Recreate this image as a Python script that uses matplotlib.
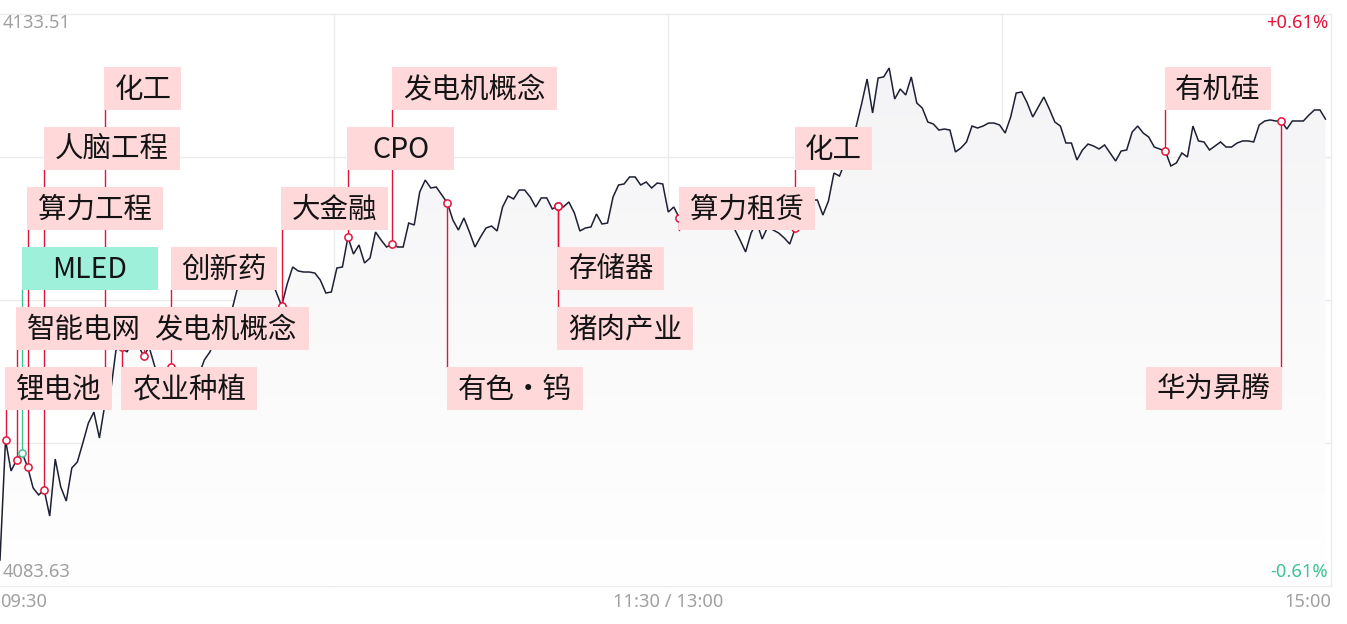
import numpy as np
import matplotlib
matplotlib.use("Agg")
import matplotlib.pyplot as plt
from matplotlib.patches import Rectangle, Polygon
from matplotlib.colors import LinearSegmentedColormap

# ---- index level, one value per minute (09:30-11:30, 13:00-15:00) ----
price = [
    4085.90, 4096.36, 4093.66, 4094.62, 4095.23, 4094.01, 4092.18, 4091.57, 4092.00, 4089.73,
    4094.70, 4092.26, 4091.04, 4093.92, 4094.44, 4096.10, 4097.84, 4098.80, 4096.54, 4099.50,
    4100.46, 4104.21, 4104.47, 4104.04, 4105.08, 4104.65, 4103.69, 4104.47, 4102.82, 4101.16,
    4102.03, 4102.73, 4101.59, 4100.29, 4101.16, 4100.02, 4102.03, 4103.34, 4104.04, 4105.08,
    4106.39, 4107.00, 4107.70, 4109.62, 4111.01, 4111.54, 4111.88, 4113.10, 4111.88, 4110.66,
    4109.27, 4108.05, 4109.97, 4111.45, 4111.10, 4111.01, 4111.01, 4110.92, 4110.31, 4109.18,
    4109.27, 4111.36, 4111.45, 4114.06, 4112.58, 4113.37, 4111.80, 4112.23, 4114.50, 4113.80,
    4113.19, 4113.45, 4113.19, 4113.19, 4115.28, 4115.11, 4117.99, 4119.03, 4118.34, 4118.42,
    4117.73, 4117.03, 4115.55, 4114.67, 4115.72, 4114.50, 4113.19, 4114.06, 4114.85, 4115.02,
    4114.59, 4116.68, 4117.64, 4117.38, 4118.16, 4118.16, 4117.55, 4116.68, 4117.47, 4117.47,
    4116.51, 4116.77, 4116.68, 4117.12, 4116.16, 4114.59, 4114.85, 4114.94, 4116.07, 4115.20,
    4115.28, 4117.55, 4118.60, 4118.69, 4119.30, 4119.30, 4118.60, 4118.86, 4118.34, 4118.77,
    4118.69, 4116.24, 4116.68, 4115.72, 4115.37, 4115.98, 4115.11, 4115.72, 4116.42, 4115.55,
    4115.98, 4115.37, 4115.02, 4114.76, 4113.80, 4112.76, 4114.41, 4115.37, 4113.89, 4114.94,
    4114.67, 4114.41, 4113.98, 4113.45, 4114.85, 4115.72, 4116.85, 4117.29, 4117.29, 4115.98,
    4117.20, 4119.64, 4119.38, 4120.60, 4122.09, 4123.66, 4125.66, 4127.84, 4124.88, 4127.93,
    4128.02, 4128.80, 4126.10, 4126.97, 4126.45, 4128.02, 4125.75, 4125.31, 4124.09, 4123.92,
    4123.39, 4123.48, 4123.39, 4121.48, 4121.83, 4122.35, 4123.74, 4123.57, 4123.74, 4124.00,
    4124.00, 4123.83, 4123.13, 4124.53, 4126.62, 4126.71, 4125.75, 4124.53, 4125.40, 4126.27,
    4125.23, 4124.09, 4123.74, 4122.26, 4122.26, 4120.78, 4121.65, 4122.17, 4122.00, 4121.74,
    4122.09, 4121.39, 4120.69, 4121.56, 4121.65, 4123.22, 4123.74, 4123.13, 4122.78, 4121.91,
    4121.74, 4121.56, 4120.26, 4120.52, 4121.39, 4121.04, 4123.74, 4122.44, 4122.35, 4121.65,
    4122.00, 4122.35, 4121.91, 4121.91, 4122.26, 4122.44, 4122.44, 4122.35, 4123.83, 4124.18,
    4124.27, 4124.18, 4124.18, 4123.48, 4124.18, 4124.18, 4124.18, 4124.70, 4125.14, 4125.14,
    4124.35,
]
prev_close = 4108.57
y_top = 4133.51
y_bottom = 4083.63
n_slots = 241
time_labels = ["09:30", "11:30 / 13:00", "15:00"]

# ---- sector events tagged on the curve ----
event_names = ["化工", "人脑工程", "算力工程", "MLED", "智能电网", "锂电池",
               "发电机概念", "农业种植", "创新药", "大金融", "CPO", "发电机概念",
               "有色・钨", "存储器", "猪肉产业", "算力租赁", "化工", "有机硅", "华为昇腾"]
event_minutes = [19, 8, 5, 4, 3, 1, 26, 22, 31, 51, 63, 71, 81, 101, 101, 123, 144, 211, 232]
event_up = [True] * 19
event_up[3] = False  # MLED is the one falling tag

# label layout: row (0 = top), placement relative to marker, alignment
event_rows = [0, 1, 2, 3, 4, 5, 4, 5, 3, 2, 1, 0, 5, 3, 4, 2, 1, 0, 5]
event_below = [False, False, False, False, False, False, False, True, False, False,
               False, False, True, True, True, False, False, False, True]
event_right = [False] * 18 + [True]

W, H = 1347, 624
fig = plt.figure(figsize=(W / 100, H / 100), dpi=100)
L, R, T, B = 0, 1331, 14, 586
ax = fig.add_axes([L / W, 1 - B / H, (R - L) / W, (B - T) / H])
ax.set_xlim(0, n_slots)
ax.set_ylim(y_bottom, y_top)
ax.set_axis_off()

grid_c = "#ebebeb"
for k in range(5):
    yv = y_bottom + k * (y_top - y_bottom) / 4
    ax.axhline(yv, color=grid_c, lw=1.0, zorder=0, clip_on=False)
for f in (0.251, 0.502, 0.753, 1.0):
    ax.axvline(f * n_slots, color=grid_c, lw=1.0, zorder=0, clip_on=False)

x = np.arange(len(price))
p = np.array(price)

# soft gradient under the curve
verts = list(zip(x, p)) + [(x[-1], y_bottom), (0, y_bottom)]
poly = Polygon(verts, closed=True, facecolor="none", edgecolor="none")
ax.add_patch(poly)
cmap = LinearSegmentedColormap.from_list("fade", ["#ffffff", "#f4f4f6"])
grad = np.linspace(0, 1, 256).reshape(-1, 1)
im = ax.imshow(grad, extent=[0, x[-1], y_bottom, p.max()], aspect="auto",
               cmap=cmap, origin="lower", zorder=1)
im.set_clip_path(poly)

ax.plot(x, p, color="#1d2033", lw=1.1, zorder=3, solid_joinstyle="miter")

# overlay in pixel coordinates for tags and texts
ov = fig.add_axes([0, 0, 1, 1])
ov.set_xlim(0, W)
ov.set_ylim(H, 0)
ov.set_axis_off()
ov.set_zorder(ax.get_zorder() + 1)


def to_px(xd, yd):
    dx, dy = ax.transData.transform((xd, yd))
    return dx, H - dy


red = "#e3143a"
green = "#3fc394"
pink = "#ffd9da"
mint = "#9ff0da"
cjk = ["Noto Sans CJK SC", "DejaVu Sans"]
box_h = 43

for name, m, up, row, below, right in zip(event_names, event_minutes, event_up,
                                          event_rows, event_below, event_right):
    mx, my = to_px(m, price[m])
    lc = red if up else green
    bc = pink if up else mint
    top = 67 + 60 * row
    wdt = 29.5 * len(name) + 18
    left = mx - wdt + 0.5 if right else mx - 0.5
    if below:
        ov.plot([mx, mx], [my, top], color=lc, lw=1.0, zorder=1)
    else:
        ov.plot([mx, mx], [top + box_h, my], color=lc, lw=1.0, zorder=1)
    ov.plot(mx, my, "o", ms=5.2, mfc="white", mec=lc, mew=1.1, zorder=2)
    ov.add_patch(Rectangle((left, top), wdt, box_h, facecolor=bc, edgecolor="none", zorder=3))
    ov.text(left + wdt / 2, top + box_h / 2 + 1, name, ha="center", va="center",
            fontsize=20.5, family=cjk, color="#141414", zorder=4)

gray = "#a0a0a0"
num_font = ["Noto Sans", "DejaVu Sans"]
fs = 13.2
pct_hi = (y_top / prev_close - 1) * 100
pct_lo = (y_bottom / prev_close - 1) * 100
ov.text(3, 23, f"{y_top:.2f}", ha="left", va="center", fontsize=fs, color=gray, family=num_font)
ov.text(3, 572, f"{y_bottom:.2f}", ha="left", va="center", fontsize=fs, color=gray, family=num_font)
ov.text(1328, 23, f"+{pct_hi:.2f}%", ha="right", va="center", fontsize=fs, color=red, family=num_font)
ov.text(1328, 572, f"{pct_lo:.2f}%", ha="right", va="center", fontsize=fs, color=green, family=num_font)
ov.text(0, 602, time_labels[0], ha="left", va="center", fontsize=fs, color=gray, family=num_font)
ov.text(668, 602, time_labels[1], ha="center", va="center", fontsize=fs, color=gray, family=num_font)
ov.text(1331, 602, time_labels[2], ha="right", va="center", fontsize=fs, color=gray, family=num_font)

fig.savefig("out.png", dpi=100, facecolor="white")
